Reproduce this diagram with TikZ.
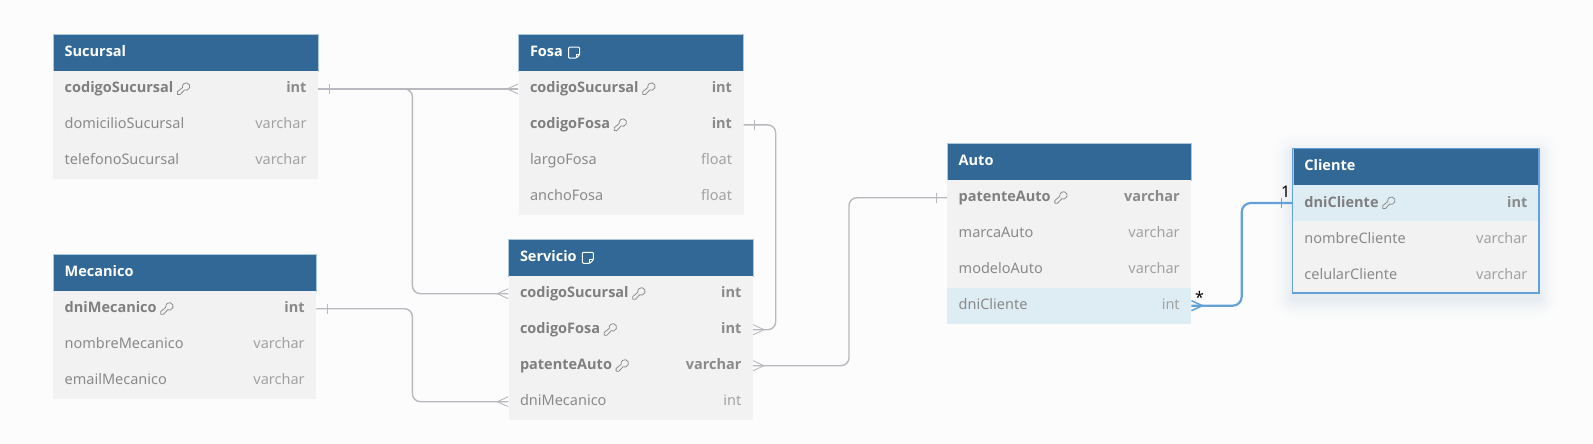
\documentclass[tikz,border=0pt]{standalone}
\usepackage{fontspec}
\setmainfont{Noto Sans}
\newfontfamily\kbf{Open Sans}
\usetikzlibrary{calc}
\definecolor{bgc}{HTML}{FCFCFC}
\definecolor{headc}{HTML}{316896}
\definecolor{headedge}{HTML}{A9C7E0}
\definecolor{rowc}{HTML}{F2F2F2}
\definecolor{hlc}{HTML}{DEECF4}
\definecolor{keyc}{HTML}{7F7F7F}
\definecolor{typec}{HTML}{A2A2A2}
\definecolor{namec}{HTML}{8A8A8A}
\definecolor{linkc}{HTML}{B8B9BF}
\definecolor{activec}{HTML}{64A1D6}
\definecolor{shadec}{HTML}{6F93B5}
\tikzset{
  headbox/.style={draw=headedge,line width=.5pt,fill=headc,minimum height=36.5pt,inner sep=0pt,anchor=north west},
  rowbox/.style={fill=rowc,minimum height=36pt,inner sep=0pt,anchor=north west},
  hlbox/.style={rowbox,fill=hlc},
  title/.style={font=\kbf\fontsize{14.5}{16}\selectfont\bfseries,text=white,anchor=west,inner sep=0pt,text height=11pt,text depth=3pt},
  fname/.style={font=\fontsize{14.5}{16}\selectfont,text=namec,anchor=west,inner sep=0pt,text height=11pt,text depth=3pt},
  kname/.style={font=\kbf\fontsize{14.5}{16}\selectfont\bfseries,text=keyc,anchor=west,inner sep=0pt,text height=11pt,text depth=3pt},
  ftype/.style={font=\fontsize{14.5}{16}\selectfont,text=typec,anchor=east,inner sep=0pt,text height=11pt,text depth=3pt},
  ktype/.style={font=\kbf\fontsize{14.5}{16}\selectfont\bfseries,text=typec!85!black,anchor=east,inner sep=0pt,text height=11pt,text depth=3pt},
  conn/.style={draw=linkc,line width=1.4pt,rounded corners=8pt},
  fan/.style={draw=linkc,line width=.9pt},
  active/.style={draw=activec,line width=2.2pt,rounded corners=9pt},
  activefan/.style={draw=activec,line width=1.5pt},
  card/.style={font=\fontsize{16}{18}\selectfont,text=black,inner sep=0pt},
  keyico/.pic={
    \draw[keyc!90,line width=.8pt,line join=round,scale=1.1]
      (-5.5,5) -- (-5.5,2.5) -- (-1,-1.2)
      .. controls (-1.4,-4.5) and (1.5,-6) .. (3,-5.5)
      .. controls (5.5,-5) and (6,-2.5) .. (5.5,-1)
      .. controls (4.5,1.2) and (2,1.8) .. (.7,1)
      -- (-3,5) -- cycle;
  },
  noteico/.pic={
    \draw[white,line width=1pt,rounded corners=1pt,line join=round]
      (-5.5,-5.5) -- (5.5,-5.5) -- (5.5,2) -- (2,5.5) -- (-5.5,5.5) -- cycle;
    \draw[white,line width=.9pt] (5.5,2) -- (2,2) -- (2,5.5);
  },
}
% \tablehead{id}{x}{y}{w}{title}
\newcommand{\tablehead}[5]{%
  \node[headbox,minimum width=#4pt] (#1) at (#2,#3) {};
  \node[title] (#1-title) at ($(#1.west)+(11.5,0)$) {#5};
}
% \plainrow{id}{x}{y}{w}{name}{type}{boxstyle}
\newcommand{\plainrow}[7]{%
  \node[#7,minimum width=#4pt] (#1) at (#2,#3) {};
  \node[fname] (#1-n) at ($(#1.west)+(11.5,0)$) {#5};
  \node[ftype] (#1-t) at ($(#1.east)+(-11.5,0)$) {#6};
}
\newcommand{\keyrow}[7]{%
  \node[#7,minimum width=#4pt] (#1) at (#2,#3) {};
  \node[kname] (#1-n) at ($(#1.west)+(11.5,0)$) {#5};
  \node[ktype] (#1-t) at ($(#1.east)+(-11.5,0)$) {#6};
  \pic at ($(#1-n.east)+(10,0)$) {keyico};
}
\begin{document}
\begin{tikzpicture}[x=1pt,y=-1pt]
\useasboundingbox (0,0) rectangle (1593,444);
\fill[bgc] (0,0) rectangle (1593,444);

% soft shadow of the selected table
\foreach \g in {24,23,...,1}{
  \pgfmathsetmacro{\shadepct}{16*((25-\g)/25)^2}
  \fill[shadec!\shadepct!bgc,rounded corners=\g pt] (1292.7-\g,148.3-\g+5) rectangle (1538.7+\g,294+\g+5);
}

% Sucursal
\tablehead{suc}{53}{34.2}{264.8}{Sucursal}
\keyrow{suc1}{53}{70.7}{264.8}{codigoSucursal}{int}{rowbox}
\plainrow{suc2}{53}{106.7}{264.8}{domicilioSucursal}{varchar}{rowbox}
\plainrow{suc3}{53}{142.7}{264.8}{telefonoSucursal}{varchar}{rowbox}

% Mecanico
\tablehead{mec}{53}{254}{263}{Mecanico}
\keyrow{mec1}{53}{290.5}{263}{dniMecanico}{int}{rowbox}
\plainrow{mec2}{53}{326.5}{263}{nombreMecanico}{varchar}{rowbox}
\plainrow{mec3}{53}{362.5}{263}{emailMecanico}{varchar}{rowbox}

% Fosa
\tablehead{fos}{518.3}{34.2}{225}{Fosa}
\keyrow{fos1}{518.3}{70.7}{225}{codigoSucursal}{int}{rowbox}
\keyrow{fos2}{518.3}{106.7}{225}{codigoFosa}{int}{rowbox}
\plainrow{fos3}{518.3}{142.7}{225}{largoFosa}{float}{rowbox}
\plainrow{fos4}{518.3}{178.7}{225}{anchoFosa}{float}{rowbox}
\pic at ($(fos-title.east)+(11,0)$) {noteico};

% Servicio
\tablehead{ser}{508.3}{239.3}{244.4}{Servicio}
\keyrow{ser1}{508.3}{275.5}{244.4}{codigoSucursal}{int}{rowbox}
\keyrow{ser2}{508.3}{311.5}{244.4}{codigoFosa}{int}{rowbox}
\keyrow{ser3}{508.3}{347.5}{244.4}{patenteAuto}{varchar}{rowbox}
\plainrow{ser4}{508.3}{383.5}{244.4}{dniMecanico}{int}{rowbox}
\pic at ($(ser-title.east)+(11,0)$) {noteico};

% Auto
\tablehead{aut}{947}{143.3}{244}{Auto}
\keyrow{aut1}{947}{179.5}{244}{patenteAuto}{varchar}{rowbox}
\plainrow{aut2}{947}{215.5}{244}{marcaAuto}{varchar}{rowbox}
\plainrow{aut3}{947}{251.5}{244}{modeloAuto}{varchar}{rowbox}
\plainrow{aut4}{947}{287.5}{244}{dniCliente}{int}{hlbox}

% Cliente
\tablehead{cli}{1292.7}{148.3}{246}{Cliente}
\keyrow{cli1}{1292.7}{184.8}{246}{dniCliente}{int}{hlbox}
\plainrow{cli2}{1292.7}{220.8}{246}{nombreCliente}{varchar}{rowbox}
\plainrow{cli3}{1292.7}{256.8}{246}{celularCliente}{varchar}{rowbox}
\draw[activec,line width=1.5pt] (cli.north west) rectangle (cli3.south east);

% connector bend columns
\coordinate (bendA) at (412.4,0);
\coordinate (bendB) at (775.7,0);
\coordinate (bendC) at (849,0);
\coordinate (bendD) at (1241.7,0);

% connectors
\draw[conn] (suc1.east) -- (fos1.west);
\draw[conn] (suc1.east) -- (suc1.east -| bendA) -- (ser1.west -| bendA) -- (ser1.west);
\draw[conn] (fos2.east) -- (fos2.east -| bendB) -- (ser2.east -| bendB) -- (ser2.east);
\draw[conn] (ser3.east) -- (ser3.east -| bendC) -- (aut1.west -| bendC) -- (aut1.west);
\draw[conn] (mec1.east) -- (mec1.east -| bendA) -- (ser4.west -| bendA) -- (ser4.west);
\draw[active] (aut4.east) -- (aut4.east -| bendD) -- (cli1.west -| bendD) -- (cli1.west);

% one-side ticks
\draw[fan] ($(suc1.east)+(11,-5)$) -- ++(0,10);
\draw[fan] ($(mec1.east)+(11,-5)$) -- ++(0,10);
\draw[fan] ($(fos2.east)+(11,-5)$) -- ++(0,10);
\draw[fan] ($(aut1.west)+(-11,-5)$) -- ++(0,10);
\draw[activefan] ($(cli1.west)+(-11,-5)$) -- ++(0,10);

% many-side fans
\draw[fan] ($(fos1.west)+(0,-5)$) -- ++(-11,5) -- ++(11,5);
\draw[fan] ($(ser1.west)+(0,-5)$) -- ++(-11,5) -- ++(11,5);
\draw[fan] ($(ser4.west)+(0,-5)$) -- ++(-11,5) -- ++(11,5);
\draw[fan] ($(ser2.east)+(0,-5)$) -- ++(11,5) -- ++(-11,5);
\draw[fan] ($(ser3.east)+(0,-5)$) -- ++(11,5) -- ++(-11,5);
\draw[activefan] ($(aut4.east)+(0,-5)$) -- ++(11,5) -- ++(-11,5);

% cardinality labels
\node[card] (cardOne) at ($(cli1.west)+(-7,-11)$) {1};
\node[card] (cardMany) at ($(aut4.east)+(8,-8)$) {*};
\end{tikzpicture}
\end{document}
